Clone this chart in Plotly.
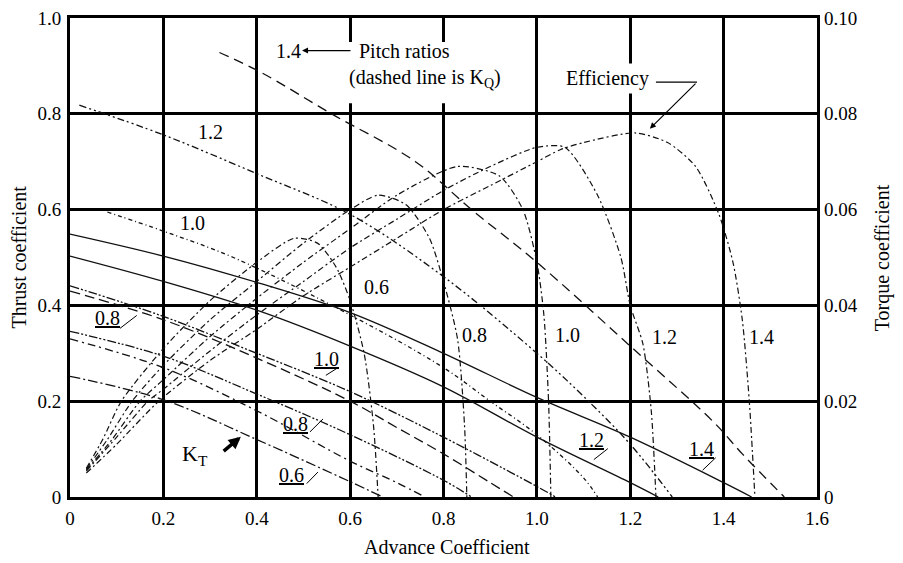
import plotly.graph_objects as go

# Thrust coefficient KT (left axis) for each pitch ratio
kt06_j = [0, 0.2, 0.4, 0.6, 0.67]
kt06 = [0.252, 0.203, 0.12, 0.032, 0]
kt08_j = [0, 0.2, 0.4, 0.6, 0.8, 0.86]
kt08 = [0.346, 0.294, 0.215, 0.13, 0.035, 0]
kt10_j = [0, 0.2, 0.4, 0.6, 0.8, 1.0, 1.04]
kt10 = [0.441, 0.377, 0.30, 0.22, 0.125, 0.022, 0]
kt12_j = [0, 0.2, 0.4, 0.6, 0.8, 1.0, 1.2, 1.26]
kt12 = [0.503, 0.45, 0.39, 0.315, 0.23, 0.125, 0.03, 0]
kt14_j = [0, 0.2, 0.4, 0.6, 0.8, 1.0, 1.2, 1.4, 1.46]
kt14 = [0.549, 0.503, 0.448, 0.385, 0.30, 0.208, 0.125, 0.03, 0]

# Torque coefficient KQ (right axis)
kq06_j = [0, 0.2, 0.4, 0.6, 0.7, 0.76]
kq06 = [0.033, 0.027, 0.018, 0.0075, 0.003, 0]
kq08_j = [0, 0.2, 0.4, 0.6, 0.7, 0.8, 0.9, 0.95]
kq08 = [0.043, 0.037, 0.029, 0.02, 0.0145, 0.009, 0.003, 0]
kq10_j = [0.08, 0.2, 0.35, 0.6, 0.8, 0.9, 1.0, 1.1, 1.13]
kq10 = [0.0595, 0.0555, 0.050, 0.038, 0.027, 0.02, 0.013, 0.004, 0]
kq12_j = [0.02, 0.2, 0.4, 0.6, 0.8, 1.0, 1.1, 1.2, 1.29]
kq12 = [0.0818, 0.0756, 0.0675, 0.059, 0.046, 0.03, 0.021, 0.011, 0]
kq14_j = [0.32, 0.41, 0.56, 0.74, 0.86, 1.0, 1.2, 1.38, 1.44, 1.53]
kq14 = [0.0928, 0.0886, 0.080, 0.070, 0.060, 0.049, 0.0315, 0.0155, 0.009, 0]

# Efficiency (left axis scale)
eta06_j = [0.035, 0.07, 0.11, 0.2, 0.3, 0.4, 0.48, 0.53, 0.57, 0.6, 0.63, 0.65, 0.66]
eta06 = [0.06, 0.12, 0.2, 0.31, 0.41, 0.49, 0.54, 0.53, 0.48, 0.41, 0.3, 0.15, 0]
eta08_j = [0.035, 0.08, 0.133, 0.2, 0.3, 0.4, 0.5, 0.6, 0.66, 0.72, 0.77, 0.8, 0.83, 0.845, 0.85]
eta08 = [0.058, 0.12, 0.2, 0.275, 0.37, 0.45, 0.53, 0.6, 0.63, 0.61, 0.54, 0.45, 0.33, 0.15, 0]
eta10_j = [0.035, 0.09, 0.15, 0.2, 0.3, 0.4, 0.5, 0.6, 0.7, 0.83, 0.92, 0.97, 1.0, 1.015, 1.025, 1.03]
eta10 = [0.056, 0.12, 0.2, 0.245, 0.335, 0.415, 0.49, 0.56, 0.63, 0.69, 0.67, 0.6, 0.49, 0.38, 0.2, 0]
eta12_j = [0.035, 0.1, 0.167, 0.2, 0.3, 0.4, 0.5, 0.6, 0.7, 0.8, 0.9, 1.0, 1.06, 1.13, 1.18, 1.2, 1.227, 1.245, 1.255]
eta12 = [0.054, 0.125, 0.2, 0.225, 0.305, 0.38, 0.45, 0.52, 0.58, 0.64, 0.69, 0.73, 0.73, 0.63, 0.5, 0.4, 0.32, 0.18, 0]
eta14_j = [0.035, 0.1, 0.19, 0.3, 0.4, 0.5, 0.6, 0.7, 0.8, 0.9, 1.0, 1.05, 1.1, 1.21, 1.28, 1.34, 1.39, 1.42, 1.44, 1.455, 1.467]
eta14 = [0.05, 0.11, 0.2, 0.285, 0.35, 0.42, 0.48, 0.54, 0.6, 0.65, 0.70, 0.725, 0.74, 0.76, 0.74, 0.69, 0.59, 0.49, 0.37, 0.2, 0]

x_ticks = [0, 0.2, 0.4, 0.6, 0.8, 1.0, 1.2, 1.4, 1.6]
x_labels = ["0", "0.2", "0.4", "0.6", "0.8", "1.0", "1.2", "1.4", "1.6"]
y_ticks = [0, 0.2, 0.4, 0.6, 0.8, 1.0]
y_labels = ["0", "0.2", "0.4", "0.6", "0.8", "1.0"]
y2_ticks = [0, 0.02, 0.04, 0.06, 0.08, 0.10]
y2_labels = ["0", "0.02", "0.04", "0.06", "0.08", "0.10"]

FONT = "Liberation Serif, Times New Roman, serif"

fig = go.Figure()


def add_curve(j, v, dash, axis="y", width=1.3, smooth=1.0):
    fig.add_trace(go.Scatter(
        x=j, y=v, mode="lines", yaxis=axis, showlegend=False, hoverinfo="skip",
        line=dict(color="#111", width=width, dash=dash, shape="spline", smoothing=smooth),
    ))


# KT curves
add_curve(kt14_j, kt14, "solid")
add_curve(kt12_j, kt12, "solid")
add_curve(kt10_j, kt10, "9px,2px,2px,2px,2px,2px")
add_curve(kt08_j, kt08, "9px,2px,2px,2px,2px,2px")
add_curve(kt06_j, kt06, "10px,3px,2px,3px")

# KQ curves (dashed)
add_curve(kq14_j, kq14, "10px,6px", axis="y2")
add_curve(kq12_j, kq12, "7px,3px,2px,3px,2px,3px", axis="y2")
add_curve(kq10_j, kq10, "4px,3px,1px,3px", axis="y2")
add_curve(kq08_j, kq08, "10px,5px", axis="y2")
add_curve(kq06_j, kq06, "8px,4px,2px,4px", axis="y2")

# efficiency curves
for ej, ev in [(eta06_j, eta06), (eta08_j, eta08), (eta10_j, eta10),
               (eta12_j, eta12), (eta14_j, eta14)]:
    add_curve(ej, ev, "6px,3px,2px,3px", width=1.2, smooth=0.7)

txt = dict(family=FONT, size=20, color="black")
ann = []

# plain pitch ratio labels
for x, y, t in [(0.30, 0.763, "1.2"), (0.263, 0.571, "1.0"), (0.657, 0.439, "0.6"),
                (0.867, 0.338, "0.8"), (1.066, 0.338, "1.0"), (1.274, 0.334, "1.2"),
                (1.482, 0.334, "1.4")]:
    ann.append(dict(x=x, y=y, text=t, showarrow=False, font=txt))

# underlined KT/KQ labels with small leaders
tails = [
    (0.081, 0.373, "0.8", 0.107, 0.352, 0.143, 0.379),
    (0.55, 0.289, "1.0", 0.574, 0.27, 0.548, 0.254),
    (0.484, 0.153, "0.8", 0.514, 0.136, 0.542, 0.163),
    (0.475, 0.045, "0.6", 0.507, 0.028, 0.531, 0.052),
    (1.118, 0.118, "1.2", 1.152, 0.101, 1.122, 0.078),
    (1.353, 0.101, "1.4", 1.383, 0.082, 1.355, 0.056),
]
shapes = []
for x, y, t, x0, y0, x1, y1 in tails:
    ann.append(dict(x=x, y=y, text="<u>" + t + "</u>", showarrow=False, font=txt))
    shapes.append(dict(type="line", x0=x0, y0=y0, x1=x1, y1=y1,
                       line=dict(color="black", width=1)))

# white patch behind the pitch ratio note (breaks the grid lines)
shapes.append(dict(type="rect", x0=0.565, x1=0.955, y0=0.822, y1=0.95, layer="above",
                   fillcolor="white", line=dict(width=0)))
ann.append(dict(x=0.76, y=0.90, text="&nbsp;&nbsp;Pitch ratios<br>(dashed line is K<sub>Q</sub>)",
                showarrow=False, font=txt, align="left"))
ann.append(dict(x=0.469, y=0.932, text="1.4", showarrow=False, font=txt))
ann.append(dict(x=0.497, y=0.932, ax=0.604, ay=0.932, axref="x", ayref="y",
                text="", showarrow=True, arrowhead=2, arrowsize=1, arrowwidth=1.2,
                arrowcolor="black"))

# efficiency note
ann.append(dict(x=1.152, y=0.874, text="Efficiency", showarrow=False, font=txt,
                bgcolor="white", borderpad=3))
shapes.append(dict(type="line", x0=1.255, y0=0.866, x1=1.343, y1=0.866,
                   line=dict(color="black", width=1.2)))
ann.append(dict(x=1.242, y=0.769, ax=1.343, ay=0.866, axref="x", ayref="y",
                text="", showarrow=True, arrowhead=2, arrowsize=1, arrowwidth=1.2,
                arrowcolor="black"))

# KT note
ann.append(dict(x=0.268, y=0.087, text="K<sub>T</sub>", showarrow=False,
                font=dict(family=FONT, size=22, color="black")))
ann.append(dict(x=0.366, y=0.126, ax=0.326, ay=0.093, axref="x", ayref="y",
                text="", showarrow=True, arrowhead=2, arrowsize=0.7, arrowwidth=3.5,
                arrowcolor="black"))

# axis titles
title_font = dict(family=FONT, size=20, color="black")
ann.append(dict(x=-0.0696, y=0.5, xref="paper", yref="paper", text="Thrust coefficient",
                textangle=-90, showarrow=False, font=title_font,
                xanchor="center", yanchor="middle"))
ann.append(dict(x=1.088, y=0.5, xref="paper", yref="paper", text="Torque coefficient",
                textangle=-90, showarrow=False, font=title_font,
                xanchor="center", yanchor="middle"))
ann.append(dict(x=0.505, y=-0.105, xref="paper", yref="paper", text="Advance Coefficient",
                showarrow=False, font=title_font, xanchor="center", yanchor="middle"))

axis_common = dict(showline=True, linecolor="black", linewidth=3, mirror=True,
                   zeroline=False, ticks="", automargin=False, ticklabeloverflow="allow",
                   tickfont=dict(family=FONT, size=19, color="black"))

# the page body has an 8px margin, so the figure is trimmed and shifted to match
fig.update_layout(
    width=895, height=555,
    margin=dict(l=62, r=86, t=10, b=66),
    paper_bgcolor="white", plot_bgcolor="white",
    font=dict(family=FONT, color="black"),
    showlegend=False,
    xaxis=dict(range=[0, 1.6], tickvals=x_ticks, ticktext=x_labels,
               showgrid=True, gridcolor="black", gridwidth=2.5,
               ticklabelstandoff=2, **axis_common),
    yaxis=dict(range=[0, 1.0], tickvals=y_ticks, ticktext=y_labels,
               showgrid=True, gridcolor="black", gridwidth=2.5,
               ticklabelstandoff=2, **axis_common),
    yaxis2=dict(range=[0, 0.1], tickvals=y2_ticks, ticktext=y2_labels, overlaying="y",
                side="right", showgrid=False, showline=False, zeroline=False, ticks="",
                automargin=False, ticklabeloverflow="allow", ticklabelstandoff=6,
                tickfont=dict(family=FONT, size=19, color="black")),
    annotations=ann,
    shapes=shapes,
)

fig.write_html("out.html")
